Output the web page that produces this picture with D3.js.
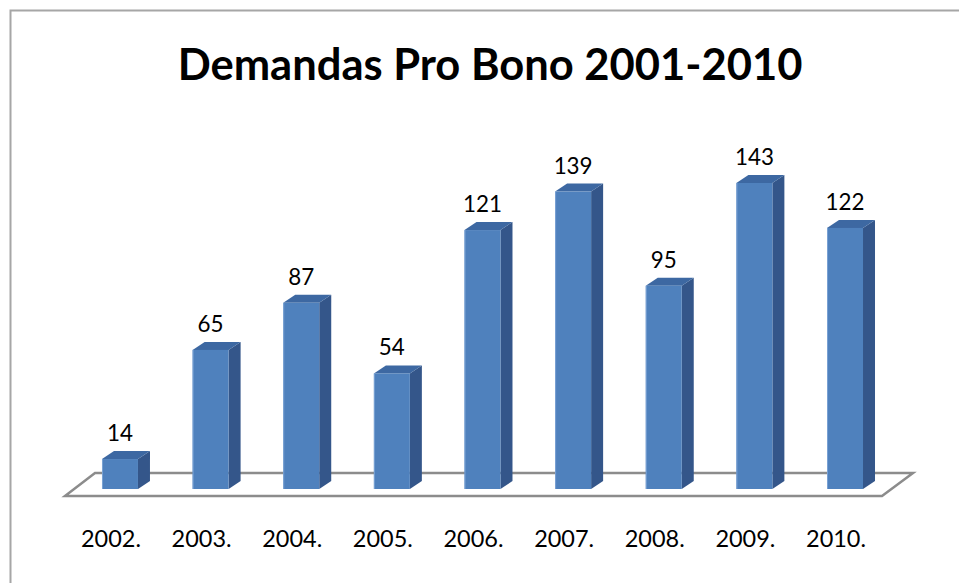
<!DOCTYPE html>
<html>
<head>
<meta charset="utf-8">
<script src="https://cdn.jsdelivr.net/npm/d3@7"></script>
<style>
html,body{margin:0;padding:0;background:#fff;}
svg{display:block;}
text{font-family:Lato,"Open Sans",sans-serif;fill:#000;}
</style>
</head>
<body>
<svg id="chart" width="959" height="583"></svg>
<script>
const title = "Demandas Pro Bono 2001-2010";
const categories = ["2002.", "2003.", "2004.", "2005.", "2006.", "2007.", "2008.", "2009.", "2010."];
const values = [14, 65, 87, 54, 121, 139, 95, 143, 122];

const svg = d3.select("#chart");
const W = 959, H = 583;

// outer frame (left & top visible)
svg.append("rect").attr("x", 10.5).attr("y", 10.5).attr("width", 1000).attr("height", 700)
  .attr("fill", "#fff").attr("stroke", "#a6a6a6").attr("stroke-width", 2);

const x = d3.scaleBand().domain(categories).range([74.8, 890.2]).paddingInner(0.603).paddingOuter(0.3);
const y = d3.scaleLinear().domain([0, 150]).range([489, 168]);
const dx = 12, dy = -8;

// floor
const floor = [[65, 496], [882, 496], [913, 473], [95, 473]];
svg.append("path").attr("d", d3.line()(floor) + "Z")
  .attr("fill", "#fff").attr("stroke", "#8c8c8c").attr("stroke-width", 2.5).attr("stroke-linejoin", "miter");

const g = svg.append("g");
const bars = g.selectAll("g.bar").data(values.map((v, i) => ({v, c: categories[i]}))).join("g").attr("class", "bar");
bars.each(function(d) {
  const sel = d3.select(this);
  const x0 = x(d.c), x1 = x0 + x.bandwidth(), yt = y(d.v), yb = y(0);
  // side
  sel.append("path").attr("d", d3.line()([[x1, yb], [x1 + dx, yb + dy], [x1 + dx, yt + dy], [x1, yt]]) + "Z")
    .attr("fill", "#34568a");
  // top
  sel.append("path").attr("d", d3.line()([[x0, yt], [x0 + dx, yt + dy], [x1 + dx, yt + dy], [x1, yt]]) + "Z")
    .attr("fill", "#3d68a2");
  // front
  sel.append("rect").attr("x", x0).attr("y", yt).attr("width", x.bandwidth()).attr("height", yb - yt)
    .attr("fill", "#4f81bd");
  sel.append("line").attr("x1", x0 + 0.5).attr("x2", x0 + 0.5).attr("y1", yt).attr("y2", yb)
    .attr("stroke", "#7aa2d4").attr("stroke-width", 1);
});

function fitSize(str, weight, target) {
  const t = svg.append("text").attr("font-size", 100).attr("font-weight", weight).text(str);
  const w = t.node().getComputedTextLength();
  t.remove();
  return 100 * target / w;
}

const valSize = fitSize("139", "normal", 39);
bars.append("text")
  .attr("x", d => x(d.c) + x.bandwidth() / 2)
  .attr("y", d => y(d.v) - 18)
  .attr("text-anchor", "middle")
  .attr("font-size", valSize)
  .text(d => d.v);

const catSize = fitSize("2008.", "normal", 60);
svg.append("g").selectAll("text").data(categories).join("text")
  .attr("x", d => x(d) + x.bandwidth() / 2 - 9)
  .attr("y", 547)
  .attr("text-anchor", "middle")
  .attr("font-size", catSize)
  .text(d => d);

const titleSize = fitSize(title, "bold", 625);
svg.append("text").attr("x", 490).attr("y", 80).attr("text-anchor", "middle")
  .attr("font-weight", "bold").attr("font-size", titleSize).text(title);
</script>
</body>
</html>
